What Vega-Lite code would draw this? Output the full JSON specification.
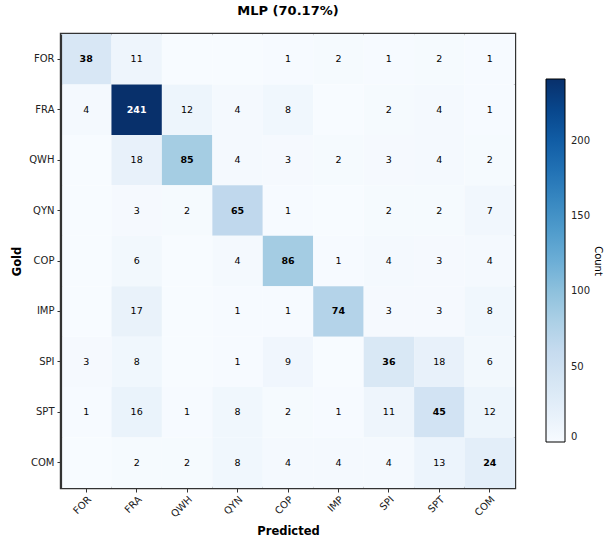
{
  "$schema": "https://vega.github.io/schema/vega-lite/v6.json",
  "autosize": {"type": "none"},
  "padding": {"left": 61, "top": 34, "right": 96, "bottom": 56},
  "width": 454,
  "height": 454,
  "title": {"text": "MLP (70.17%)", "font": "DejaVu Sans", "fontSize": 13, "fontWeight": "bold", "color": "#000", "offset": 16, "anchor": "middle"},
  "config": {
    "font": "DejaVu Sans",
    "view": {"stroke": "#333", "strokeWidth": 2.4},
    "axis": {"domain": true, "domainColor": "#333", "domainWidth": 1.2, "grid": false, "labelFont": "DejaVu Sans", "labelFontSize": 10, "labelColor": "#222", "tickColor": "#333", "tickSize": 4, "titleFont": "DejaVu Sans", "titleFontSize": 11.5, "titleFontWeight": "bold", "titleColor": "#000"}
  },
  "data": {"values": [
    {"gold": "FOR", "pred": "FOR", "n": 38}, {"gold": "FOR", "pred": "FRA", "n": 11}, {"gold": "FOR", "pred": "QWH", "n": 0}, {"gold": "FOR", "pred": "QYN", "n": 0}, {"gold": "FOR", "pred": "COP", "n": 1}, {"gold": "FOR", "pred": "IMP", "n": 2}, {"gold": "FOR", "pred": "SPI", "n": 1}, {"gold": "FOR", "pred": "SPT", "n": 2}, {"gold": "FOR", "pred": "COM", "n": 1},
    {"gold": "FRA", "pred": "FOR", "n": 4}, {"gold": "FRA", "pred": "FRA", "n": 241}, {"gold": "FRA", "pred": "QWH", "n": 12}, {"gold": "FRA", "pred": "QYN", "n": 4}, {"gold": "FRA", "pred": "COP", "n": 8}, {"gold": "FRA", "pred": "IMP", "n": 0}, {"gold": "FRA", "pred": "SPI", "n": 2}, {"gold": "FRA", "pred": "SPT", "n": 4}, {"gold": "FRA", "pred": "COM", "n": 1},
    {"gold": "QWH", "pred": "FOR", "n": 0}, {"gold": "QWH", "pred": "FRA", "n": 18}, {"gold": "QWH", "pred": "QWH", "n": 85}, {"gold": "QWH", "pred": "QYN", "n": 4}, {"gold": "QWH", "pred": "COP", "n": 3}, {"gold": "QWH", "pred": "IMP", "n": 2}, {"gold": "QWH", "pred": "SPI", "n": 3}, {"gold": "QWH", "pred": "SPT", "n": 4}, {"gold": "QWH", "pred": "COM", "n": 2},
    {"gold": "QYN", "pred": "FOR", "n": 0}, {"gold": "QYN", "pred": "FRA", "n": 3}, {"gold": "QYN", "pred": "QWH", "n": 2}, {"gold": "QYN", "pred": "QYN", "n": 65}, {"gold": "QYN", "pred": "COP", "n": 1}, {"gold": "QYN", "pred": "IMP", "n": 0}, {"gold": "QYN", "pred": "SPI", "n": 2}, {"gold": "QYN", "pred": "SPT", "n": 2}, {"gold": "QYN", "pred": "COM", "n": 7},
    {"gold": "COP", "pred": "FOR", "n": 0}, {"gold": "COP", "pred": "FRA", "n": 6}, {"gold": "COP", "pred": "QWH", "n": 0}, {"gold": "COP", "pred": "QYN", "n": 4}, {"gold": "COP", "pred": "COP", "n": 86}, {"gold": "COP", "pred": "IMP", "n": 1}, {"gold": "COP", "pred": "SPI", "n": 4}, {"gold": "COP", "pred": "SPT", "n": 3}, {"gold": "COP", "pred": "COM", "n": 4},
    {"gold": "IMP", "pred": "FOR", "n": 0}, {"gold": "IMP", "pred": "FRA", "n": 17}, {"gold": "IMP", "pred": "QWH", "n": 0}, {"gold": "IMP", "pred": "QYN", "n": 1}, {"gold": "IMP", "pred": "COP", "n": 1}, {"gold": "IMP", "pred": "IMP", "n": 74}, {"gold": "IMP", "pred": "SPI", "n": 3}, {"gold": "IMP", "pred": "SPT", "n": 3}, {"gold": "IMP", "pred": "COM", "n": 8},
    {"gold": "SPI", "pred": "FOR", "n": 3}, {"gold": "SPI", "pred": "FRA", "n": 8}, {"gold": "SPI", "pred": "QWH", "n": 0}, {"gold": "SPI", "pred": "QYN", "n": 1}, {"gold": "SPI", "pred": "COP", "n": 9}, {"gold": "SPI", "pred": "IMP", "n": 0}, {"gold": "SPI", "pred": "SPI", "n": 36}, {"gold": "SPI", "pred": "SPT", "n": 18}, {"gold": "SPI", "pred": "COM", "n": 6},
    {"gold": "SPT", "pred": "FOR", "n": 1}, {"gold": "SPT", "pred": "FRA", "n": 16}, {"gold": "SPT", "pred": "QWH", "n": 1}, {"gold": "SPT", "pred": "QYN", "n": 8}, {"gold": "SPT", "pred": "COP", "n": 2}, {"gold": "SPT", "pred": "IMP", "n": 1}, {"gold": "SPT", "pred": "SPI", "n": 11}, {"gold": "SPT", "pred": "SPT", "n": 45}, {"gold": "SPT", "pred": "COM", "n": 12},
    {"gold": "COM", "pred": "FOR", "n": 0}, {"gold": "COM", "pred": "FRA", "n": 2}, {"gold": "COM", "pred": "QWH", "n": 2}, {"gold": "COM", "pred": "QYN", "n": 8}, {"gold": "COM", "pred": "COP", "n": 4}, {"gold": "COM", "pred": "IMP", "n": 4}, {"gold": "COM", "pred": "SPI", "n": 4}, {"gold": "COM", "pred": "SPT", "n": 13}, {"gold": "COM", "pred": "COM", "n": 24}
  ]},
  "encoding": {
    "x": {"field": "pred", "type": "nominal", "sort": ["FOR", "FRA", "QWH", "QYN", "COP", "IMP", "SPI", "SPT", "COM"], "title": "Predicted", "scale": {"paddingInner": 0, "paddingOuter": 0},
      "axis": {"labelAngle": -45, "labelAlign": "right", "labelBaseline": "top", "labelPadding": 2, "titlePadding": 7}},
    "y": {"field": "gold", "type": "nominal", "sort": ["FOR", "FRA", "QWH", "QYN", "COP", "IMP", "SPI", "SPT", "COM"], "title": "Gold", "scale": {"paddingInner": 0, "paddingOuter": 0},
      "axis": {"labelAngle": 0, "labelPadding": 3, "titlePadding": 6}}
  },
  "layer": [
    {
      "mark": {"type": "rect"},
      "encoding": {
        "color": {"field": "n", "type": "quantitative",
          "scale": {"domain": [0, 241], "range": ["#f7fbff", "#deebf7", "#c6dbef", "#9ecae1", "#6baed6", "#4292c6", "#2171b5", "#08519c", "#08306b"], "interpolate": "rgb"},
          "legend": {"title": "Count", "orient": "none", "legendX": 485, "legendY": 45, "gradientLength": 363, "gradientThickness": 19, "gradientStrokeColor": "#000", "gradientStrokeWidth": 1, "values": [0, 50, 100, 150, 200], "labelFont": "DejaVu Sans", "labelFontSize": 10, "labelColor": "#222", "labelOffset": 6, "titleOrient": "right", "titleAngle": 90, "titleFont": "DejaVu Sans", "titleFontSize": 10, "titleFontWeight": "normal", "titleColor": "#000", "titleAnchor": "middle", "titleBaseline": "bottom", "titlePadding": 3}}
      }
    },
    {
      "transform": [{"filter": "datum.n > 0 && datum.gold !== datum.pred"}],
      "mark": {"type": "text", "font": "DejaVu Sans", "fontSize": 9.5, "fontWeight": "normal"},
      "encoding": {
        "text": {"field": "n", "type": "quantitative"},
        "color": {"condition": {"test": "datum.n > 120", "value": "#ffffff"}, "value": "#000000"}
      }
    },
    {
      "transform": [{"filter": "datum.n > 0 && datum.gold === datum.pred"}],
      "mark": {"type": "text", "font": "DejaVu Sans", "fontSize": 9.5, "fontWeight": "bold"},
      "encoding": {
        "text": {"field": "n", "type": "quantitative"},
        "color": {"condition": {"test": "datum.n > 120", "value": "#ffffff"}, "value": "#000000"}
      }
    }
  ]
}
